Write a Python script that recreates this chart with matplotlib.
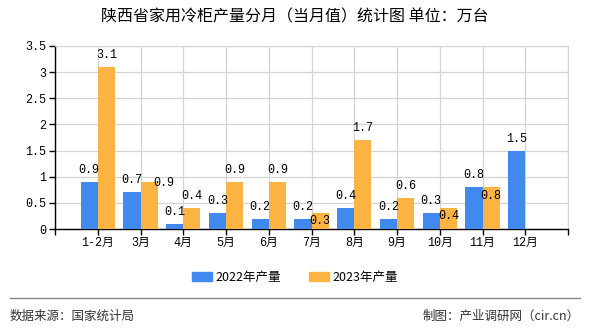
import matplotlib.pyplot as plt
import numpy as np
from matplotlib.patches import Patch
from matplotlib.lines import Line2D

plt.rcParams["font.family"] = ["Liberation Mono", "Noto Sans CJK SC", "DejaVu Sans"]

months = ["1-2月", "3月", "4月", "5月", "6月", "7月", "8月", "9月", "10月", "11月", "12月"]
output_2022 = [0.9, 0.7, 0.1, 0.3, 0.2, 0.2, 0.4, 0.2, 0.3, 0.8, 1.5]
output_2023 = [3.1, 0.9, 0.4, 0.9, 0.9, 0.3, 1.7, 0.6, 0.4, 0.8, None]
series_names = ["2022年产量", "2023年产量"]

title = "陕西省家用冷柜产量分月（当月值）统计图 单位：万台"
source_text = "数据来源：国家统计局"
credit_text = "制图：产业调研网（cir.cn）"

BLUE = "#4189ee"
ORANGE = "#fbb341"
GRID = "#d4d4d4"
CJK = ["Noto Sans CJK SC", "DejaVu Sans"]

# label nudges (pixels) where the original moved labels to avoid overlap
label_shift_2023 = {1: (15, -13), 5: (0, -20), 8: (0, -20), 9: (0, -21)}

fig = plt.figure(figsize=(5.9, 3.3), dpi=100)
ax = fig.add_axes([55 / 590, 1 - 229 / 330, 513 / 590, 183 / 330])

x = np.arange(len(months))
w = 0.4
v22 = np.array(output_2022, dtype=float)
v23 = np.array([np.nan if v is None else v for v in output_2023], dtype=float)

ax.bar(x - w / 2, v22, width=w, color=BLUE, zorder=3)
ax.bar(x + w / 2, np.nan_to_num(v23), width=w, color=ORANGE, zorder=3)

for i, v in enumerate(v22):
    ax.annotate(f"{v:.1f}", (x[i] - w / 2, v), xytext=(0, 12), textcoords="offset pixels",
                ha="center", va="center", fontsize=8.5, zorder=4)
for i, v in enumerate(v23):
    if np.isnan(v):
        continue
    dx, dy = label_shift_2023.get(i, (0, 0))
    ax.annotate(f"{v:.1f}", (x[i] + w / 2, v), xytext=(dx, 12 + dy), textcoords="offset pixels",
                ha="center", va="center", fontsize=8.5, zorder=4)

ax.set_xlim(-1, len(months))
ax.set_ylim(0, 3.5)
ax.set_yticks(np.arange(0, 3.51, 0.5))
ax.set_yticklabels([f"{t:g}" for t in np.arange(0, 3.51, 0.5)], fontsize=8.5)
ax.set_xticks(np.arange(-1, len(months) + 1))
ax.set_xticklabels([""] + months + [""], fontsize=8.5)

ax.grid(True, color=GRID, linewidth=0.9, zorder=0)
ax.set_axisbelow(True)
for s in ["top", "right"]:
    ax.spines[s].set_color(GRID)
for s in ["left", "bottom"]:
    ax.spines[s].set_color("black")
    ax.spines[s].set_linewidth(1.0)
ax.tick_params(axis="both", length=4, width=1, color="black", pad=2)

fig.text(0.5, 1 - 17 / 330, title, ha="center", va="center", fontsize=11.5, family=CJK)

handles = [Patch(color=BLUE), Patch(color=ORANGE)]
fig.legend(handles, series_names, loc="center", bbox_to_anchor=(0.5, 1 - 277 / 330),
           ncol=2, frameon=False, handlelength=1.6, handleheight=0.7,
           handletextpad=0.3, columnspacing=2.2, prop={"family": CJK, "size": 9})

fig.add_artist(Line2D([10 / 590, 580 / 590], [1 - 298 / 330] * 2, color="#888888", linewidth=1))
fig.text(10 / 590, 1 - 316 / 330, source_text, ha="left", va="center", fontsize=9,
         family=CJK, color="#333333")
fig.text(580 / 590, 1 - 316 / 330, credit_text, ha="right", va="center", fontsize=9,
         family=CJK, color="#333333")

fig.savefig("out.png", dpi=100)
